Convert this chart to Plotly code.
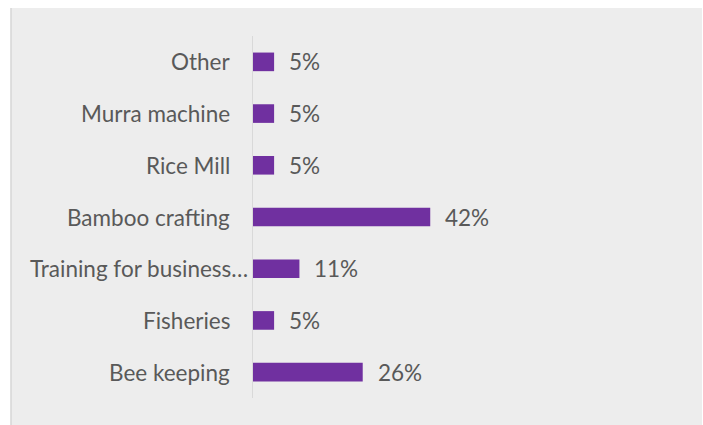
import plotly.graph_objects as go

# Survey shares by livelihood activity (bottom to top)
categories = ["Bee keeping", "Fisheries", "Training for business\u2026",
              "Bamboo crafting", "Rice Mill", "Murra machine", "Other"]
shares = [0.26, 0.05, 0.11, 0.42, 0.05, 0.05, 0.05]
value_labels = ["26%", "5%", "11%", "42%", "5%", "5%", "5%"]

BAR_COLOR = "#7030A0"
TEXT_COLOR = "#595959"
PANEL_COLOR = "#EDEDED"
FONT = "Lato"
FONT_SIZE = 22.5

W_PX, H_PX = 703, 425
M_L, M_R, M_T, M_B = 253, 239, 36, 27
X_MAX = 0.5
plot_w = W_PX - M_L - M_R
plot_h = H_PX - M_T - M_B

fig = go.Figure(go.Bar(
    x=shares,
    y=categories,
    orientation="h",
    marker=dict(color=BAR_COLOR, line=dict(width=0)),
    width=0.36,
    hoverinfo="skip",
))

# Grey chart panel with a thin left edge
fig.add_shape(
    type="rect", xref="paper", yref="paper", layer="below",
    x0=(11 - M_L) / plot_w, x1=(702 - M_L) / plot_w,
    y0=-(H_PX - M_T - plot_h) / plot_h - 0.01, y1=(M_T + plot_h - 8) / plot_h,
    fillcolor=PANEL_COLOR, line=dict(width=0),
)
fig.add_shape(
    type="line", xref="paper", yref="paper", layer="below",
    x0=(11 - M_L) / plot_w, x1=(11 - M_L) / plot_w,
    y0=-0.2, y1=(M_T + plot_h - 8) / plot_h,
    line=dict(color="#D6D6D6", width=1.5),
)

# Value labels to the right of each bar
for cat, val, lab in zip(categories, shares, value_labels):
    fig.add_annotation(
        x=val, y=cat, xref="x", yref="y", text=lab, showarrow=False,
        xanchor="left", xshift=13,
        font=dict(family=FONT, size=FONT_SIZE, color=TEXT_COLOR),
    )

# Category labels left of the axis
label_gap = {"Training for business\u2026": 3}
for cat in categories:
    fig.add_annotation(
        x=0, y=cat, xref="paper", yref="y", text=cat, showarrow=False,
        xanchor="right", xshift=-label_gap.get(cat, 21),
        font=dict(family=FONT, size=FONT_SIZE, color=TEXT_COLOR),
    )

fig.update_layout(
    width=W_PX, height=H_PX,
    margin=dict(l=M_L, r=M_R, t=M_T, b=M_B, pad=0),
    paper_bgcolor="white",
    plot_bgcolor="rgba(0,0,0,0)",
    showlegend=False,
    bargap=0.64,
    font=dict(family=FONT, size=FONT_SIZE, color=TEXT_COLOR),
    xaxis=dict(range=[0, X_MAX], visible=False, fixedrange=True),
    yaxis=dict(
        categoryorder="array", categoryarray=categories,
        showticklabels=False, showgrid=False, zeroline=False,
        showline=True, linecolor="#D9D9D9", linewidth=1,
        ticks="", fixedrange=True,
    ),
)

fig.write_html("out.html", config={"displayModeBar": False})
